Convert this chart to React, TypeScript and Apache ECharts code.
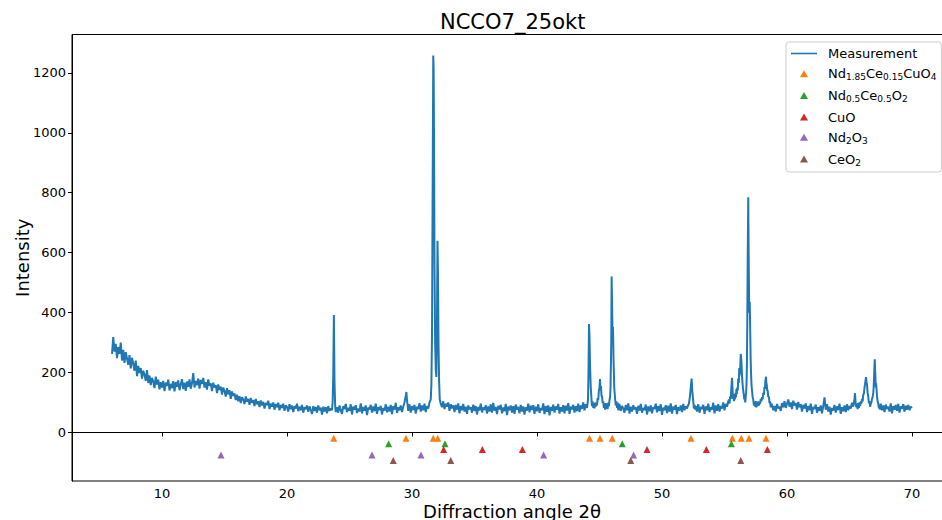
import React, { useEffect, useRef } from "react";
import * as echarts from "echarts";

// ---------- data ----------
const STEP = 0.1;
const xTicks = [10, 20, 30, 40, 50, 60, 70];
const yTicks = [0, 200, 400, 600, 800, 1000, 1200];

// background (regular 0.1° sampling): start angle + intensities
const bgA_start = 6.0;
const bgA = [
  262, 318, 270, 296, 248, 285, 262, 300, 240, 276,
  232, 268, 247, 226, 258, 214, 249, 230, 206, 240,
  188, 222, 198, 215, 180, 206, 193, 172, 208, 165,
  190, 158, 182, 170, 148, 186, 160, 176, 144, 168,
  150, 172, 138, 166, 155, 176, 140, 162, 148, 171,
  137, 168, 152, 174, 141, 160, 178, 145, 166, 139,
  170, 152, 177, 146, 165, 198, 150, 172, 158, 180,
  146, 175, 162, 182, 150, 168, 143, 177, 156, 164,
  138, 166, 150, 158, 131, 160, 142, 153, 126, 150,
  138, 120, 148, 127, 141, 112, 137, 122, 130, 108,
  126, 104, 121, 98, 118, 110, 95, 120, 102, 112,
  92, 115, 99, 108, 88, 112, 94, 104, 85, 107,
  90, 102, 80, 98, 92, 106, 78, 96, 86, 100,
  76, 95, 84, 99, 74, 92, 82, 96, 72, 90,
  85, 70, 94, 78, 90, 68, 88, 80, 96, 71,
  86, 74, 92, 66, 84, 78, 90, 69, 87, 75,
  62, 88, 72, 85, 66, 90, 74, 83, 60, 86,
  70, 84, 64, 88, 72, 80, 74,
];
const peak23: [number, number][] = [[23.65, 100], [23.7, 190], [23.75, 392], [23.8, 170], [23.85, 92], [23.9, 68]];
const bgB_start = 24.0;
const bgB = [
  84, 66, 90, 74, 62, 88, 78, 95, 68, 82,
  72, 94, 60, 86, 76, 91, 65, 80, 70, 97,
  64, 85, 73, 90, 58, 83, 77, 92, 66, 87,
  71, 96, 62, 84, 75, 89, 60, 82, 73, 94,
  67, 86, 70, 92, 61, 88, 76, 99, 65, 84,
  74, 90, 68, 86,
];
const peak29: [number, number][] = [[29.4, 100], [29.45, 112], [29.5, 122], [29.55, 135], [29.6, 108], [29.65, 90]];
const bgC_start = 29.7;
const bgC = [72, 94, 66, 88, 75, 92, 63, 86, 78, 98, 70, 90, 74, 96, 68, 88, 80, 100];
const peak31: [number, number][] = [[31.5, 110], [31.55, 160], [31.6, 320], [31.65, 800], [31.7, 1258], [31.73, 1215],
  [31.76, 1000], [31.8, 560], [31.85, 300], [31.9, 210], [31.95, 185], [32.0, 380], [32.04, 640], [32.08, 520],
  [32.12, 300], [32.17, 170], [32.22, 110], [32.3, 96]];
const bgD_start = 32.4;
const bgD = [
  84, 104, 78, 96, 86, 100, 72, 94, 80, 90,
  68, 92, 76, 97, 64, 88, 74, 95, 70, 86,
  62, 90, 78, 84, 66, 93, 72, 88, 60, 85,
  74, 96, 67, 83, 76, 91, 63, 87, 70, 94,
  66, 99, 73, 85, 61, 89, 77, 92, 64, 83,
  71, 95, 58, 86, 74, 90, 66, 88, 62, 93,
  76, 85, 64, 92, 70, 87, 60, 84, 73, 96,
  67, 89, 75, 91, 62, 86, 71, 94, 65, 82,
  74, 97, 61, 88, 69, 90, 57, 85, 72, 93,
  66, 87, 76, 95, 63, 84, 70, 91, 64, 89,
  73, 98, 62, 86, 77, 92, 66, 88, 71, 96,
  68, 90, 79, 100, 74, 94, 82,
];
const peak44: [number, number][] = [[44.08, 110], [44.12, 200], [44.16, 362], [44.2, 320], [44.24, 230], [44.3, 150],
  [44.36, 110], [44.4, 88], [44.45, 104], [44.5, 82], [44.55, 96], [44.6, 80], [44.65, 100], [44.7, 86],
  [44.75, 98], [44.8, 90], [44.85, 115], [44.9, 108], [44.95, 140], [45.0, 150], [45.04, 178], [45.08, 140],
  [45.12, 155], [45.16, 120], [45.2, 122], [45.25, 98], [45.3, 104], [45.35, 82], [45.4, 96], [45.45, 76],
  [45.5, 98], [45.55, 80], [45.6, 94], [45.65, 78], [45.7, 100], [45.75, 88], [45.8, 108], [45.85, 120],
  [45.88, 150], [45.91, 220], [45.94, 300], [45.97, 520], [46.01, 420], [46.05, 300], [46.08, 352],
  [46.12, 250], [46.18, 150], [46.25, 110], [46.3, 90], [46.35, 104], [46.4, 82], [46.45, 100], [46.5, 74], [46.55, 92]];
const bgE_start = 46.6;
const bgE = [
  94, 72, 88, 80, 66, 92, 74, 97, 63, 86,
  70, 91, 77, 84, 62, 89, 73, 95, 66, 82,
  75, 93, 60, 87, 71, 90, 64, 85, 78, 96,
  67, 88, 72, 94, 59, 83, 74, 91, 65, 89,
  70, 97, 63, 86, 76, 92, 61, 84, 73, 90,
  68, 95, 74, 87, 80, 92,
];
const peak52: [number, number][] = [[52.15, 95], [52.2, 110], [52.25, 125], [52.32, 160], [52.37, 180], [52.42, 140],
  [52.5, 105], [52.55, 80], [52.6, 92], [52.65, 76]];
const bgF_start = 52.7;
const bgF = [
  88, 70, 94, 66, 85, 78, 92, 62, 87, 74,
  96, 68, 84, 76, 99, 64, 90, 72, 94, 70,
  88, 80, 100, 74, 95, 86, 104,
];
const peak56: [number, number][] = [[55.35, 110], [55.4, 96], [55.45, 120], [55.5, 112], [55.55, 150], [55.6, 182],
  [55.65, 140], [55.68, 112], [55.72, 125], [55.76, 104], [55.8, 128], [55.84, 110], [55.88, 132], [55.92, 118],
  [55.95, 145], [55.98, 128], [56.02, 150], [56.06, 140], [56.1, 180], [56.14, 165], [56.18, 215], [56.21, 190],
  [56.24, 205], [56.27, 230], [56.3, 262], [56.35, 240], [56.4, 190], [56.44, 165], [56.47, 150], [56.51, 135],
  [56.55, 125], [56.58, 110], [56.62, 118], [56.66, 100], [56.7, 120], [56.73, 135], [56.76, 160], [56.79, 220],
  [56.82, 350], [56.86, 600], [56.9, 785], [56.94, 560], [56.98, 400], [57.02, 435], [57.06, 330], [57.09, 250],
  [57.12, 200], [57.16, 160], [57.2, 140], [57.25, 118], [57.3, 110], [57.35, 90], [57.4, 100], [57.45, 86],
  [57.5, 105], [57.55, 84], [57.6, 98], [57.65, 88], [57.7, 104], [57.75, 90], [57.8, 100], [57.85, 96],
  [57.9, 112], [57.95, 104], [58.0, 118], [58.05, 110], [58.1, 132], [58.15, 125], [58.2, 152], [58.24, 145],
  [58.27, 172], [58.32, 186], [58.35, 165], [58.38, 160], [58.42, 138], [58.45, 142], [58.5, 118], [58.55, 120],
  [58.6, 98], [58.65, 104], [58.7, 84], [58.75, 96]];
const bgG_start = 58.8;
const bgG = [
  92, 74, 88, 70, 95, 80, 86, 72, 98, 84,
  104, 82, 96, 110, 86, 100, 78, 106, 90, 98,
  76, 102, 84, 94, 70, 92, 80, 97, 68, 88,
  74, 96, 62, 85, 78, 93, 66, 84, 72, 90,
  64, 88, 117, 76, 94, 70, 86, 60, 82, 73,
  92, 66, 87, 75, 96, 62, 84, 71, 90, 68,
  94, 74, 88, 80, 99, 86,
];
const peak66: [number, number][] = [[65.35, 100], [65.4, 112], [65.44, 131], [65.48, 104], [65.5, 95], [65.55, 84],
  [65.6, 96], [65.65, 78], [65.7, 98], [65.75, 82], [65.8, 100], [65.85, 88], [65.9, 104], [65.95, 96],
  [66.0, 112], [66.05, 104], [66.1, 126], [66.15, 130], [66.2, 150], [66.24, 160], [66.28, 172], [66.32, 185],
  [66.36, 168], [66.4, 160], [66.45, 132], [66.5, 120], [66.55, 98], [66.6, 104], [66.65, 86], [66.7, 96],
  [66.75, 100], [66.8, 112], [66.85, 118], [66.9, 132], [66.93, 150], [66.96, 180], [67.0, 225], [67.02, 244],
  [67.05, 205], [67.07, 190], [67.1, 150], [67.13, 164], [67.17, 140], [67.2, 122], [67.25, 104],
  [67.3, 98], [67.35, 80], [67.4, 92], [67.45, 76]];
const bgH_start = 67.5;
const bgH = [96, 74, 90, 68, 93, 78, 86, 70, 97, 64, 88, 76, 92, 72, 95, 66, 87, 79, 94, 70, 89, 76, 92, 74, 86, 82];

// reference phase reflections (2θ) and their display levels
const nccoPeaks = [23.74, 29.52, 31.7, 32.06, 44.2, 45.04, 46.02, 52.32, 55.63, 56.34, 56.96, 58.32];
const nceoPeaks = [28.13, 32.64, 46.82, 55.55];
const cuoPeaks = [32.53, 35.63, 38.83, 48.8, 53.55, 58.43];
const nd2o3Peaks = [14.72, 26.8, 30.72, 40.53, 47.73];
const ceo2Peaks = [28.5, 33.1, 47.5, 56.3];
const phaseLevels = [-19, -38, -57, -75, -94];
const phaseNames = ["Nd1.85Ce0.15CuO4", "Nd0.5Ce0.5O2", "CuO", "Nd2O3", "CeO2"];
const phaseLabels = [
  "{n|Nd}{s|1.85}{n|Ce}{s|0.15}{n|CuO}{s|4}",
  "{n|Nd}{s|0.5}{n|Ce}{s|0.5}{n|O}{s|2}",
  "{n|CuO}",
  "{n|Nd}{s|2}{n|O}{s|3}",
  "{n|CeO}{s|2}",
];
const phaseColors = ["#ff7f0e", "#2ca02c", "#d62728", "#9467bd", "#8c564b"];

function regular(start: number, vals: number[]): [number, number][] {
  return vals.map((v, i) => [Math.round((start + i * STEP) * 100) / 100, v]);
}

const measurement: [number, number][] = [
  ...regular(bgA_start, bgA), ...peak23,
  ...regular(bgB_start, bgB), ...peak29,
  ...regular(bgC_start, bgC), ...peak31,
  ...regular(bgD_start, bgD), ...peak44,
  ...regular(bgE_start, bgE), ...peak52,
  ...regular(bgF_start, bgF), ...peak56,
  ...regular(bgG_start, bgG), ...peak66,
  ...regular(bgH_start, bgH),
];

const FONT = "DejaVu Sans";
const TRIANGLE = "path://M0,8.66 L5,0 L10,8.66 Z";
const LINE_ICON = "path://M0,0 L26,0 L26,1.6 L0,1.6 Z";

export default function App() {
  const ref = useRef<HTMLDivElement>(null);
  useEffect(() => {
    if (!ref.current) return;
    const chart = echarts.init(ref.current, undefined, { renderer: "svg" });
    const phaseSets = [nccoPeaks, nceoPeaks, cuoPeaks, nd2o3Peaks, ceo2Peaks];
    const labelMap: Record<string, string> = { Measurement: "{n|Measurement}" };
    phaseNames.forEach((n, i) => (labelMap[n] = phaseLabels[i]));
    chart.setOption({
      animation: false,
      backgroundColor: "#ffffff",
      title: {
        text: "NCCO7_25okt",
        left: 440,
        top: 11,
        padding: 0,
        textStyle: { fontFamily: FONT, fontSize: 21, fontWeight: "normal", color: "#000" },
      },
      grid: {
        left: 72,
        right: -10,
        top: 34.5,
        bottom: 39,
        show: true,
        borderColor: "#000",
        borderWidth: 1,
        backgroundColor: "transparent",
        outerBoundsMode: "none",
        containLabel: false,
      },
      xAxis: {
        type: "value",
        min: 2.8,
        max: 73.2,
        name: "Diffraction angle 2θ",
        nameLocation: "middle",
        nameGap: 22,
        nameMoveOverlap: false,
        nameTextStyle: { fontFamily: FONT, fontSize: 18, color: "#000", lineHeight: 16 },
        splitLine: { show: false },
        axisLine: { show: true, lineStyle: { color: "#000", width: 1 } },
        axisTick: { show: true, inside: false, length: 4, customValues: xTicks, lineStyle: { color: "#000" } },
        axisLabel: { customValues: xTicks, margin: 6, lineHeight: 13, fontFamily: FONT, fontSize: 13, color: "#000",
          formatter: (v: number) => String(v) },
      },
      yAxis: {
        type: "value",
        min: -162,
        max: 1328,
        name: "Intensity",
        nameLocation: "middle",
        nameGap: 41,
        nameMoveOverlap: false,
        nameTextStyle: { fontFamily: FONT, fontSize: 18, color: "#000", lineHeight: 18 },
        splitLine: { show: false },
        axisLine: { show: true, lineStyle: { color: "#000", width: 1 } },
        axisTick: { show: true, inside: false, length: 4, customValues: yTicks, lineStyle: { color: "#000" } },
        axisLabel: { customValues: yTicks, margin: 6, fontFamily: FONT, fontSize: 13, color: "#000",
          formatter: (v: number) => String(v) },
      },
      legend: {
        orient: "vertical",
        left: 786,
        top: 42,
        padding: [5, 5, 5, 5],
        itemGap: 7.2,
        itemWidth: 26,
        itemHeight: 7,
        borderColor: "#cccccc",
        borderWidth: 1,
        borderRadius: 3,
        backgroundColor: "rgba(255,255,255,0.85)",
        data: [
          { name: "Measurement", icon: LINE_ICON },
          ...phaseNames.map((n) => ({ name: n, icon: TRIANGLE })),
        ],
        formatter: (name: string) => labelMap[name] || name,
        textStyle: {
          fontFamily: FONT,
          fontSize: 13,
          color: "#000",
          padding: [0, 0, 0, 6],
          rich: {
            n: { fontFamily: FONT, fontSize: 13, color: "#000", lineHeight: 16 },
            s: { fontFamily: FONT, fontSize: 9, color: "#000", lineHeight: 16, verticalAlign: "bottom" },
          },
        },
      },
      series: [
        {
          name: "Measurement",
          type: "line",
          data: measurement,
          symbol: "none",
          showSymbol: false,
          lineStyle: { color: "#1f77b4", width: 2 },
          itemStyle: { color: "#1f77b4" },
          z: 2,
        },
        ...phaseSets.map((set, i) => ({
          name: phaseNames[i],
          type: "scatter",
          symbol: "triangle",
          symbolSize: 7,
          data: set.map((x) => [x, phaseLevels[i]]),
          itemStyle: { color: phaseColors[i], opacity: 1 },
          z: 3,
        })),
      ],
    });
    return () => chart.dispose();
  }, []);
  return <div ref={ref} style={{ position: "absolute", left: 0, top: 0, width: 942, height: 520 }} />;
}
